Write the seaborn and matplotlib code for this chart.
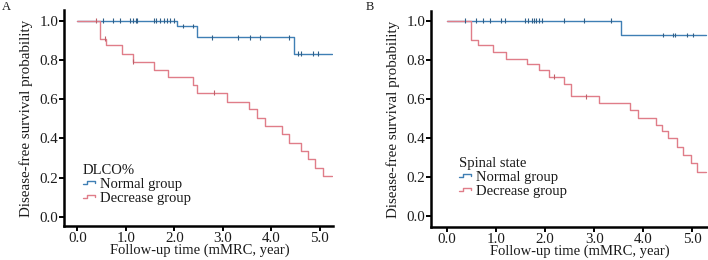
import numpy as np
import pandas as pd
import matplotlib
matplotlib.use("Agg")
import matplotlib.pyplot as plt
import seaborn as sns
from matplotlib.lines import Line2D
from matplotlib.legend_handler import HandlerBase

# ---------------- data ----------------
groups = ["Normal group", "Decrease group"]

# Panel A (DLCO%)
A_norm_times = [2.06, 2.46, 4.47]
A_norm_surv = [0.973, 0.915, 0.833]
A_norm_end = 5.24
A_norm_cens = [0.54, 0.74, 0.87, 1.09, 1.14, 1.20, 1.24, 1.58, 1.63, 1.70, 1.79, 1.85,
               1.92, 1.99, 2.17, 2.38, 2.77, 3.32, 3.56, 3.76, 4.37, 4.55, 4.61, 4.86, 4.97]
A_dec_times = [0.46, 0.59, 0.92, 1.14, 1.59, 1.87, 2.38, 2.46, 3.08, 3.53, 3.71, 3.86,
               4.22, 4.37, 4.62, 4.76, 4.90, 5.06]
A_dec_surv = [0.908, 0.874, 0.830, 0.792, 0.750, 0.713, 0.672, 0.634, 0.587, 0.548,
              0.506, 0.463, 0.420, 0.378, 0.335, 0.293, 0.250, 0.207]
A_dec_end = 5.24
A_dec_cens = [0.38, 0.57, 1.14, 2.82]

# Panel B (Spinal state)
B_norm_times = [3.55]
B_norm_surv = [0.927]
B_norm_end = 5.28
B_norm_cens = [0.36, 0.58, 0.73, 0.88, 1.10, 1.18, 1.59, 1.65, 1.72, 1.78, 1.82, 1.87,
               1.93, 2.39, 2.79, 3.34, 4.41, 4.60, 4.65, 4.90, 5.01]
B_dec_times = [0.48, 0.63, 0.93, 1.19, 1.62, 1.88, 2.08, 2.39, 2.52, 3.10, 3.73, 3.89,
               4.26, 4.39, 4.51, 4.68, 4.82, 4.97, 5.10]
B_dec_surv = [0.901, 0.875, 0.841, 0.807, 0.778, 0.747, 0.713, 0.679, 0.614, 0.580,
              0.543, 0.505, 0.469, 0.435, 0.398, 0.355, 0.312, 0.270, 0.224]
B_dec_end = 5.28
B_dec_cens = [2.18, 2.84]

x_ticks = [0.0, 1.0, 2.0, 3.0, 4.0, 5.0]
y_ticks = [0.0, 0.2, 0.4, 0.6, 0.8, 1.0]

colors = {"Normal group": "#3f7fb4", "Decrease group": "#e07d89"}


def curve_df(times, surv, end, group):
    t = [0.0] + list(times) + [end]
    s = [1.0] + list(surv) + [surv[-1]]
    return pd.DataFrame({"time": t, "surv": s, "group": group})


def cens_df(stimes, surv, cens, group):
    vals = []
    for c in cens:
        v = 1.0
        for tt, ss in zip(stimes, surv):
            if tt <= c:
                v = ss
        vals.append(v)
    return pd.DataFrame({"time": cens, "surv": vals, "group": group})


class StepHandler(HandlerBase):
    """Small step-shaped legend key, like survminer's."""
    def create_artists(self, legend, orig_handle, xdescent, ydescent, width, height,
                       fontsize, trans):
        x0, w, h = -xdescent, width, height
        y0 = -ydescent
        xs = [x0, x0 + 0.35 * w, x0 + 0.35 * w, x0 + w, x0 + w]
        ys = [y0 + 0.35 * h, y0 + 0.35 * h, y0 + 0.7 * h, y0 + 0.7 * h, y0 + 0.45 * h]
        line = Line2D(xs, ys, color=orig_handle.get_color(), lw=1.0, transform=trans)
        return [line]


# ---------------- figure ----------------
sns.set_theme(style="white")
plt.rcParams["font.family"] = ["Liberation Serif", "DejaVu Serif"]

fig = plt.figure(figsize=(7.08, 2.60), dpi=100)

W, H = 708.0, 260.0
panels = [
    dict(px=(64, 333, 226, 10),
         xlim=(-0.274, 5.27), ylim=(-0.047, 1.055),
         norm=(A_norm_times, A_norm_surv, A_norm_end, A_norm_cens),
         dec=(A_dec_times, A_dec_surv, A_dec_end, A_dec_cens),
         title="DLCO%", letter="A", letter_xy=(2, 7),
         leg_px=(83, 164), xlab_x=0.505, xlab_base=254),
    dict(px=(431, 708, 227, 11),
         xlim=(-0.33, 5.32), ylim=(-0.055, 1.05),
         norm=(B_norm_times, B_norm_surv, B_norm_end, B_norm_cens),
         dec=(B_dec_times, B_dec_surv, B_dec_end, B_dec_cens),
         title="Spinal state", letter="B", letter_xy=(366, 7),
         leg_px=(459, 157), xlab_x=0.538, xlab_base=255),
]

for p in panels:
    l, r, b, t = p["px"]
    ax = fig.add_axes([l / W, 1 - b / H, (r - l) / W, (b - t) / H])
    nt, ns, ne, nc = p["norm"]
    dt, ds, de, dc = p["dec"]
    lines = pd.concat([curve_df(nt, ns, ne, groups[0]),
                       curve_df(dt, ds, de, groups[1])], ignore_index=True)
    cens = pd.concat([cens_df(nt, ns, nc, groups[0]),
                      cens_df(dt, ds, dc, groups[1])], ignore_index=True)

    sns.lineplot(data=lines, x="time", y="surv", hue="group", hue_order=groups,
                 palette=colors, drawstyle="steps-post", estimator=None, sort=False,
                 linewidth=1.0, ax=ax, legend=False)
    sns.scatterplot(data=cens, x="time", y="surv", hue="group", hue_order=groups,
                    palette={"Normal group": "#2f5f88", "Decrease group": "#c0606a"},
                    marker="|", s=12, linewidth=0.8, ax=ax, legend=False, zorder=3)

    ax.set_xlim(*p["xlim"])
    ax.set_ylim(*p["ylim"])
    ax.set_xticks(x_ticks)
    ax.set_yticks(y_ticks)
    ax.set_xticklabels([f"{v:.1f}" for v in x_ticks])
    ax.set_yticklabels([f"{v:.1f}" for v in y_ticks])
    ax.tick_params(axis="both", direction="out", length=3.5, width=1.4, color="black",
                   labelsize=10.8, labelcolor="#1a1a1a", pad=0.5,
                   bottom=True, left=True)
    for side in ["top", "right"]:
        ax.spines[side].set_visible(False)
    for side in ["left", "bottom"]:
        ax.spines[side].set_color("black")
        ax.spines[side].set_linewidth(1.8)
    ax.set_xlabel("Follow-up time (mMRC, year)", fontsize=10.5, color="#1a1a1a")
    ax.xaxis.label.set_va("baseline")
    ax.xaxis.set_label_coords(p["xlab_x"], (b - p["xlab_base"]) / (b - t))
    ax.set_ylabel("Disease-free survival probability", fontsize=10.8, color="#1a1a1a",
                  labelpad=5)

    handles = [Line2D([0], [0], color=colors[g], lw=1.0) for g in groups]
    lx, ly = p["leg_px"]
    leg = ax.legend(handles, groups, title=p["title"], loc="upper left",
                    bbox_to_anchor=(lx / W, 1 - ly / H),
                    bbox_transform=fig.transFigure, frameon=False, fontsize=10.5,
                    title_fontsize=10.5, handlelength=0.8, handletextpad=0.35,
                    labelspacing=0.05, borderpad=0, borderaxespad=0, alignment="left",
                    handler_map={Line2D: StepHandler()})
    for txt in leg.get_texts():
        txt.set_color("#1a1a1a")
    leg.get_title().set_color("#1a1a1a")

    fig.text(p["letter_xy"][0] / W, 1 - p["letter_xy"][1] / H, p["letter"], fontsize=9,
             color="#1a1a1a", va="center", ha="left")

fig.savefig("out.png", dpi=100, facecolor="white")
